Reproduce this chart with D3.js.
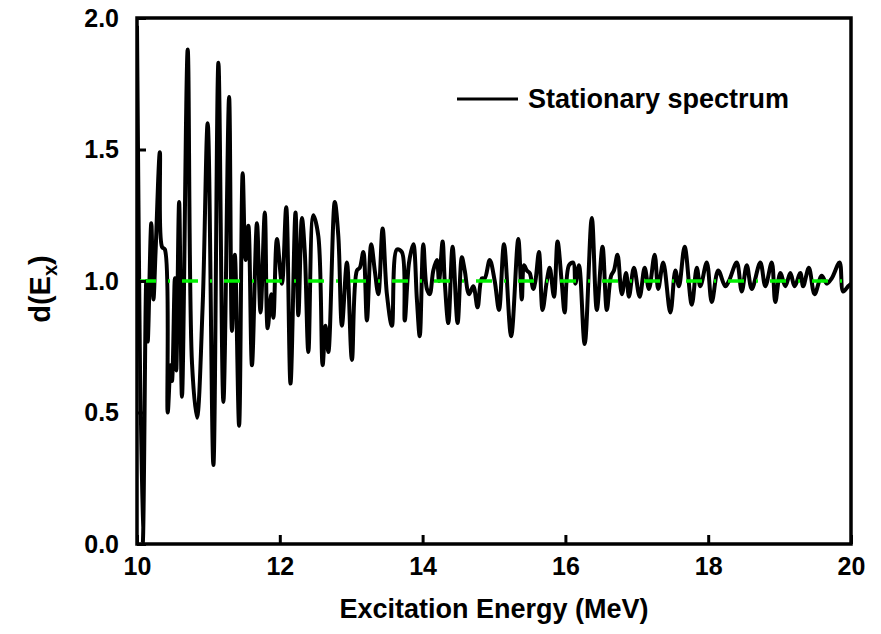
<!DOCTYPE html>
<html>
<head>
<meta charset="utf-8">
<script src="https://cdn.jsdelivr.net/npm/d3@7"></script>
<style>
  body { margin: 0; background: #fff; }
  text { font-family: "Liberation Sans", Arial, sans-serif; font-weight: bold; }
</style>
</head>
<body>
<div id="vis"></div>
<script>
// excitation energy (MeV) and level density ratio
const energy = [10.00, 10.08, 10.13, 10.15, 10.20, 10.23, 10.26, 10.32, 10.35, 10.39,
        10.43, 10.47, 10.49, 10.53, 10.55, 10.59, 10.63, 10.71, 10.77, 10.84,
        10.92, 10.99, 11.07, 11.14, 11.21, 11.29, 11.33, 11.37, 11.43, 11.48,
        11.52, 11.56, 11.61, 11.68, 11.73, 11.79, 11.83, 11.88, 11.91, 11.96,
        12.03, 12.09, 12.15, 12.22, 12.26, 12.31, 12.35, 12.40, 12.47, 12.54,
        12.60, 12.64, 12.68, 12.77, 12.82, 12.87, 12.94, 13.01, 13.08, 13.12,
        13.17, 13.22, 13.28, 13.33, 13.38, 13.44, 13.50, 13.57, 13.64, 13.71,
        13.75, 13.81, 13.87, 13.92, 13.96, 14.01, 14.06, 14.10, 14.15, 14.20,
        14.23, 14.28, 14.31, 14.36, 14.42, 14.49, 14.55, 14.59, 14.65, 14.71,
        14.77, 14.83, 14.87, 14.94, 15.01, 15.07, 15.14, 15.24, 15.34, 15.39,
        15.42, 15.46, 15.50, 15.55, 15.58, 15.63, 15.68, 15.74, 15.78, 15.84,
        15.89, 15.95, 15.99, 16.05, 16.11, 16.14, 16.19, 16.27, 16.37, 16.44,
        16.52, 16.58, 16.64, 16.68, 16.73, 16.79, 16.85, 16.89, 16.96, 17.04,
        17.11, 17.17, 17.25, 17.30, 17.37, 17.47, 17.54, 17.59, 17.67, 17.77,
        17.84, 17.89, 17.98, 18.05, 18.14, 18.24, 18.29, 18.40, 18.47, 18.54,
        18.61, 18.73, 18.80, 18.89, 18.94, 19.01, 19.08, 19.15, 19.21, 19.29,
        19.33, 19.41, 19.49, 19.59, 19.66, 19.73, 19.84, 19.89, 19.96, 20.00];

const density = [1.97, 0.00, 1.00, 0.77, 1.22, 0.93, 1.11, 1.49, 1.13, 1.12,
        0.50, 0.68, 0.62, 1.01, 0.66, 1.30, 0.56, 1.88, 0.69, 0.48,
        0.91, 1.60, 0.30, 1.83, 0.54, 1.70, 0.81, 1.10, 0.45, 1.41,
        1.08, 1.21, 0.68, 1.22, 0.88, 1.26, 0.82, 0.95, 0.86, 1.16,
        0.99, 1.28, 0.61, 1.26, 0.87, 1.24, 1.11, 0.73, 1.25, 1.17,
        0.68, 0.83, 0.73, 1.30, 1.17, 0.83, 1.07, 0.70, 1.04, 1.05,
        1.11, 0.85, 1.14, 1.04, 0.95, 1.20, 0.95, 0.83, 1.12, 1.11,
        0.85, 1.07, 1.14, 0.93, 0.79, 1.14, 0.97, 0.95, 1.04, 1.08,
        1.00, 1.15, 1.00, 0.84, 1.13, 0.84, 1.09, 1.04, 0.95, 0.98,
        0.90, 1.01, 1.01, 1.08, 1.00, 0.89, 1.14, 0.79, 1.16, 0.93,
        1.06, 1.04, 1.03, 0.97, 1.00, 1.11, 0.89, 1.00, 1.05, 0.94,
        1.15, 0.99, 0.88, 1.06, 1.07, 0.99, 1.06, 0.76, 1.24, 0.89,
        1.13, 0.89, 1.02, 1.04, 1.10, 0.95, 1.03, 0.94, 1.05, 0.94,
        1.05, 0.97, 1.10, 0.97, 1.07, 0.88, 1.04, 0.98, 1.13, 0.91,
        1.05, 0.98, 1.07, 0.92, 1.04, 0.98, 1.00, 1.07, 0.96, 1.06,
        0.97, 1.07, 0.98, 1.07, 0.92, 1.03, 0.98, 1.03, 0.98, 1.03,
        0.98, 1.05, 0.95, 1.02, 0.99, 1.01, 1.07, 0.96, 0.98, 0.99];

const xTicks = [10, 12, 14, 16, 18, 20];
const yTicks = [0.0, 0.5, 1.0, 1.5, 2.0];
const reference = 1.0;
const legendLabel = "Stationary spectrum";

const width = 881;
const height = 634;
const margin = {left: 137, right: 30, top: 18, bottom: 90};

const svg = d3.select("#vis")
        .append("svg")
        .attr("width", width)
        .attr("height", height);

const xScale = d3.scaleLinear()
        .domain([10, 20])
        .range([margin.left, width - margin.right]);

const yScale = d3.scaleLinear()
        .domain([0, 2])
        .range([height - margin.bottom, margin.top]);

const data = energy.map((e, i) => ({x: e, y: density[i]}));

// clip so the spectrum stays inside the frame
svg.append("clipPath")
        .attr("id", "plotClip")
        .append("rect")
        .attr("x", margin.left)
        .attr("y", margin.top)
        .attr("width", xScale(20) - xScale(10))
        .attr("height", yScale(0) - yScale(2));

const line = d3.line()
        .x(d => xScale(d.x))
        .y(d => yScale(d.y))
        .curve(d3.curveCatmullRom.alpha(0.5));

svg.append("path")
        .datum(data)
        .attr("clip-path", "url(#plotClip)")
        .attr("d", line)
        .attr("fill", "none")
        .attr("stroke", "black")
        .attr("stroke-width", 4)
        .attr("stroke-linejoin", "round");

// green dash-dot reference line at d = 1
svg.append("line")
        .attr("x1", xScale(10) + 3)
        .attr("x2", xScale(20))
        .attr("y1", yScale(reference))
        .attr("y2", yScale(reference))
        .attr("stroke", "#00f000")
        .attr("stroke-width", 3.5)
        .attr("stroke-dasharray", "16,12,2,12");

// axes with inward ticks
const xAxis = d3.axisBottom(xScale)
        .tickValues(xTicks)
        .tickFormat(d3.format("d"))
        .tickSizeInner(-9)
        .tickSizeOuter(0)
        .tickPadding(13);

const yAxis = d3.axisLeft(yScale)
        .tickValues(yTicks)
        .tickFormat(d3.format(".1f"))
        .tickSizeInner(-9)
        .tickSizeOuter(0)
        .tickPadding(18);

svg.append("g")
        .attr("transform", "translate(0," + yScale(0) + ")")
        .call(xAxis)
        .call(g => g.select(".domain").remove())
        .call(g => g.selectAll("line").attr("stroke", "black").attr("stroke-width", 3))
        .call(g => g.selectAll("text").attr("font-size", 25).attr("fill", "black")
                .style("font-family", "'Liberation Sans', Arial, sans-serif").style("font-weight", "bold"));

svg.append("g")
        .attr("transform", "translate(" + xScale(10) + ",0)")
        .call(yAxis)
        .call(g => g.select(".domain").remove())
        .call(g => g.selectAll("line").attr("stroke", "black").attr("stroke-width", 3))
        .call(g => g.selectAll("text").attr("font-size", 25).attr("fill", "black")
                .style("font-family", "'Liberation Sans', Arial, sans-serif").style("font-weight", "bold"));

// frame
svg.append("rect")
        .attr("x", xScale(10))
        .attr("y", yScale(2))
        .attr("width", xScale(20) - xScale(10))
        .attr("height", yScale(0) - yScale(2))
        .attr("fill", "none")
        .attr("stroke", "black")
        .attr("stroke-width", 3.5);

// axis titles
svg.append("text")
        .attr("x", (xScale(10) + xScale(20)) / 2)
        .attr("y", 618)
        .attr("text-anchor", "middle")
        .attr("font-size", 27)
        .text("Excitation Energy (MeV)");

const yTitle = svg.append("text")
        .attr("transform", "translate(50," + (yScale(1) + 8) + ") rotate(-90)")
        .attr("text-anchor", "middle")
        .attr("font-size", 29);
yTitle.append("tspan").text("d(E");
yTitle.append("tspan").attr("font-size", 20).attr("dy", 7).text("x");
yTitle.append("tspan").attr("dy", -7).text(")");

// legend
const legend = svg.append("g")
        .attr("transform", "translate(457,99)");
legend.append("line")
        .attr("x1", 0)
        .attr("x2", 61)
        .attr("stroke", "black")
        .attr("stroke-width", 3);
legend.append("text")
        .attr("x", 71)
        .attr("y", 9)
        .attr("font-size", 27)
        .text(legendLabel);
</script>
</body>
</html>
